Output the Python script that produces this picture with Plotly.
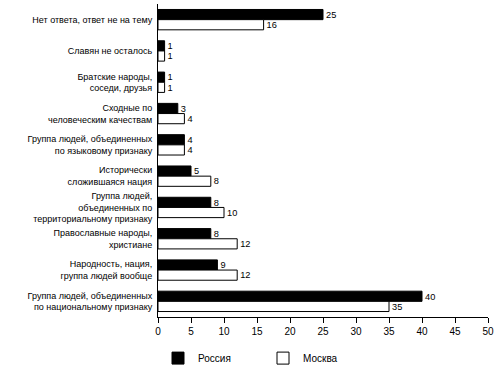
import plotly.graph_objects as go

categories = [
    "Нет ответа, ответ не на тему",
    "Славян не осталось",
    "Братские народы,<br>соседи, друзья",
    "Сходные по<br>человеческим качествам",
    "Группа людей, объединенных<br>по языковому признаку",
    "Исторически<br>сложившаяся нация",
    "Группа людей,<br>объединенных по<br>территориальному признаку",
    "Православные народы,<br>христиане",
    "Народность, нация,<br>группа людей вообще",
    "Группа людей, объединенных<br>по национальному признаку",
]
russia = [25, 1, 1, 3, 4, 5, 8, 8, 9, 40]
moscow = [16, 1, 1, 4, 4, 8, 10, 12, 12, 35]
x_ticks = [0, 5, 10, 15, 20, 25, 30, 35, 40, 45, 50]

font = "Liberation Sans, Arial, sans-serif"

fig = go.Figure()
fig.add_trace(go.Bar(
    y=categories, x=russia, orientation="h", name="Россия",
    marker=dict(color="black", line=dict(color="black", width=1)),
    text=russia, textposition="outside", cliponaxis=False,
    textfont=dict(size=10, color="black", family=font),
))
fig.add_trace(go.Bar(
    y=categories, x=moscow, orientation="h", name="Москва",
    marker=dict(color="white", line=dict(color="black", width=1)),
    text=moscow, textposition="outside", cliponaxis=False,
    textfont=dict(size=10, color="black", family=font),
))

fig.update_layout(
    width=500, height=377,
    margin=dict(l=158, r=12, t=4, b=50),
    paper_bgcolor="white", plot_bgcolor="white",
    barmode="group", bargap=0.35, bargroupgap=0,
    font=dict(family=font, size=10, color="black"),
    showlegend=True,
    legend=dict(orientation="h", x=0.0, y=-0.085, xanchor="left", yanchor="top",
                entrywidth=60, entrywidthmode="pixels",
                font=dict(size=10, family=font)),
    xaxis=dict(range=[0, 50], tickvals=x_ticks, ticks="outside", ticklen=5,
               tickcolor="black", showgrid=False, zeroline=False,
               showline=True, linecolor="black", linewidth=1, automargin=False,
               tickfont=dict(size=10, family=font)),
    yaxis=dict(autorange="reversed", showgrid=False, ticks="", showline=True,
               linecolor="black", linewidth=1, automargin=False,
               tickfont=dict(size=9, family=font), ticklabelstandoff=3),
)

fig.write_html("out.html",
               config={"displayModeBar": False},
               post_script="document.body.style.margin='0';")
